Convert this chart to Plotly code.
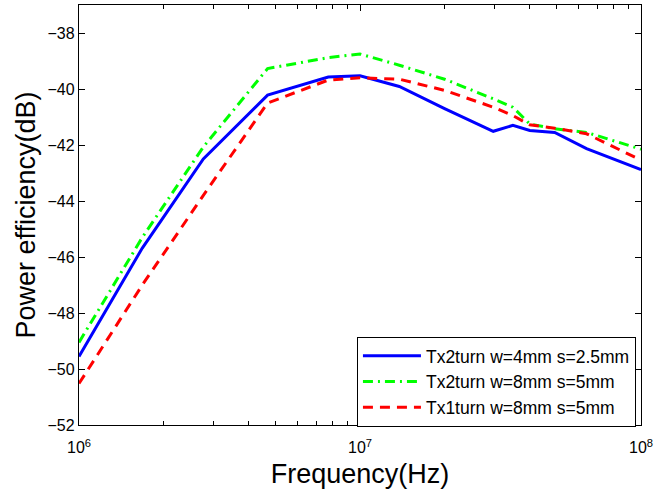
import plotly.graph_objects as go

freq = [1.0e6, 1.68e6, 2.77e6, 4.69e6, 7.71e6, 1.0e7, 1.38e7, 2.0e7, 2.98e7, 3.5e7, 4.02e7, 4.93e7, 6.4e7, 1.0e8]

blue_2turn_w4 = [-49.55, -45.68, -42.5, -40.22, -39.57, -39.53, -39.91, -40.7, -41.51, -41.30, -41.48, -41.55, -42.13, -42.88]
green_2turn_w8 = [-49.05, -45.3, -42.07, -39.27, -38.88, -38.75, -39.15, -39.65, -40.35, -40.65, -41.25, -41.42, -41.55, -42.15]
red_1turn_w8 = [-50.52, -47.0, -43.8, -40.5, -39.68, -39.6, -39.65, -40.05, -40.65, -40.95, -41.28, -41.4, -41.6, -42.54]

names = ["Tx2turn w=4mm s=2.5mm", "Tx2turn w=8mm s=5mm", "Tx1turn w=8mm s=5mm"]
yticks = [-52, -50, -48, -46, -44, -42, -40, -38]
xticks = [1e6, 1e7, 1e8]
xticklabels = ["10<sup>6</sup>", "10<sup>7</sup>", "10<sup>8</sup>"]

FONT = "Liberation Sans, Arial, Helvetica, sans-serif"

fig = go.Figure()
fig.add_trace(go.Scatter(x=freq, y=blue_2turn_w4, mode="lines", name=names[0],
                         line=dict(color="#0000FF", width=3)))
fig.add_trace(go.Scatter(x=freq, y=green_2turn_w8, mode="lines", name=names[1],
                         line=dict(color="#00FF00", width=3, dash="10px,5px,2px,5px")))
fig.add_trace(go.Scatter(x=freq, y=red_1turn_w8, mode="lines", name=names[2],
                         line=dict(color="#FF0000", width=3, dash="10px,7px")))

fig.update_layout(
    width=657, height=497,
    margin=dict(l=79, r=12, t=4, b=72),
    paper_bgcolor="white", plot_bgcolor="white",
    font=dict(family=FONT, color="black", size=16),
    showlegend=True,
    legend=dict(x=0.991, xanchor="right", y=0.21, yanchor="top",
                bgcolor="white", bordercolor="black", borderwidth=1,
                font=dict(size=17.5, family=FONT), itemwidth=58,
                tracegroupgap=0),
)

fig.update_xaxes(
    type="log", range=[6, 8],
    tickmode="array", tickvals=xticks, ticktext=xticklabels,
    ticklabeloverflow="allow",
    showline=True, linecolor="black", linewidth=1.3, mirror="ticks",
    ticks="inside", ticklen=6, tickcolor="black", tickwidth=1,
    showgrid=False, zeroline=False,
    tickfont=dict(size=16), ticklabelstandoff=8,
    minor=dict(ticks="inside", ticklen=4, tickcolor="black", tickwidth=1,
               dtick="D1", showgrid=False),
    title=dict(text="Frequency(Hz)", font=dict(size=27), standoff=8),
)
fig.update_yaxes(
    range=[-52, -37], tickmode="array", tickvals=yticks,
    showline=True, linecolor="black", linewidth=1.3, mirror="ticks",
    ticks="inside", ticklen=6, tickcolor="black", tickwidth=1,
    showgrid=False, zeroline=False,
    tickfont=dict(size=16),
    title=dict(text="Power efficiency(dB)", font=dict(size=27), standoff=4),
)

fig.write_html("out.html")
